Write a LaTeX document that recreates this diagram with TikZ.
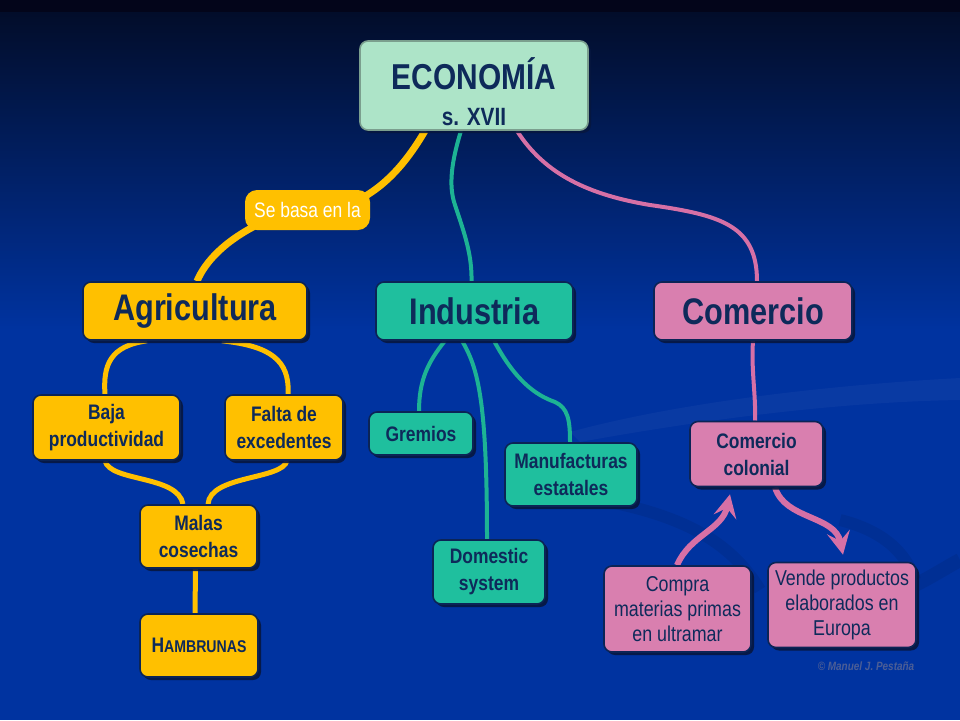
\documentclass[tikz,border=0pt]{standalone}
\usepackage{fontspec}
\setmainfont{Liberation Sans}[FakeStretch=0.83]
\usepackage{tikz}
\usetikzlibrary{arrows.meta,shadows,backgrounds}
\definecolor{bandc}{HTML}{03051A}
\definecolor{bgtop}{HTML}{020D2A}
\definecolor{bgblue}{HTML}{0033A0}
\definecolor{navytext}{HTML}{0E2A5A}
\definecolor{boxline}{HTML}{0B2456}
\definecolor{shadowc}{HTML}{07173F}
\definecolor{econfill}{HTML}{ADE4C8}
\definecolor{econline}{HTML}{7B9F8E}
\definecolor{agrifill}{HTML}{FFC000}
\definecolor{indfill}{HTML}{1FBF9E}
\definecolor{indline}{HTML}{1DB394}
\definecolor{comfill}{HTML}{D97FAF}
\definecolor{comline}{HTML}{D670A6}
\definecolor{creditc}{HTML}{4C5E96}

\begin{document}
\begin{tikzpicture}[x=1pt,y=-1pt]
\tikzstyle{box}=[draw=boxline,line width=1.6pt,rounded corners=8pt,align=center,text=navytext,inner sep=0pt,
  drop shadow={shadow xshift=3pt,shadow yshift=-3pt,fill=shadowc,opacity=0.9}]
\tikzstyle{econbox}=[box,fill=econfill,draw=econline]
\tikzstyle{agribox}=[box,fill=agrifill]
\tikzstyle{indbox}=[box,fill=indfill]
\tikzstyle{combox}=[box,fill=comfill]
\tikzstyle{labelbox}=[fill=agrifill,rounded corners=12pt,text=white,inner sep=0pt,font=\fontsize{21}{25}\selectfont]
\tikzstyle{bigtext}=[font=\fontsize{37}{40}\selectfont\bfseries]
\tikzstyle{midtext}=[font=\fontsize{21}{27}\selectfont\bfseries]
\tikzstyle{regtext}=[font=\fontsize{21.5}{25}\selectfont]
\tikzstyle{credit}=[text=creditc,font=\fontsize{12}{14}\selectfont\bfseries\itshape]
\tikzstyle{yline}=[agrifill,line width=5pt]
\tikzstyle{tline}=[indline,line width=4pt]
\tikzstyle{pline}=[comline,line width=4pt]
\tikzstyle{parrow}=[comline,line width=6pt,-{Stealth[length=23pt,width=23pt,inset=9pt]}]

\useasboundingbox (0,0) rectangle (960,720);

\node[econbox,minimum width=228pt,minimum height=89pt,font=\fontsize{25}{36}\selectfont\bfseries] (econ) at (474,85.5)
  {\rule{0pt}{44pt}{\fontsize{36}{36}\selectfont ECONOMÍA}\\s. XVII};
\node[labelbox,minimum width=125pt,minimum height=40pt] (sebasa) at (307.5,210) {Se basa en la};
\node[agribox,minimum width=224pt,minimum height=58pt,bigtext] (agri) at (195,311) {Agricultura};
\node[indbox,minimum width=197pt,minimum height=58pt,bigtext] (ind) at (474.5,311) {Industria};
\node[combox,minimum width=198pt,minimum height=58pt,bigtext] (com) at (753,311) {Comercio};
\node[agribox,minimum width=147pt,minimum height=65pt,midtext] (baja) at (106.5,427.5) {Baja\\productividad};
\node[agribox,minimum width=118pt,minimum height=65pt,midtext] (falta) at (284,427.5) {Falta de\\excedentes};
\node[agribox,minimum width=117pt,minimum height=63pt,midtext] (malas) at (198.5,536.5) {Malas\\cosechas};
\node[agribox,minimum width=118pt,minimum height=63pt,midtext] (hambre) at (199,645.5) {H{\fontsize{17}{20}\selectfont AMBRUNAS}};
\node[indbox,minimum width=104pt,minimum height=43pt,midtext] (gremios) at (421,433.5) {Gremios};
\node[indbox,minimum width=132pt,minimum height=63pt,midtext] (manuf) at (571,474.5) {Manufacturas\\estatales};
\node[indbox,minimum width=112pt,minimum height=64pt,midtext] (domestic) at (489,572) {Domestic\\system};
\node[combox,minimum width=133pt,minimum height=65pt,midtext] (colonial) at (756.5,454) {Comercio\\colonial};
\node[combox,minimum width=147pt,minimum height=86pt,regtext] (compra) at (677.5,609) {Compra\\materias primas\\en ultramar};
\node[combox,minimum width=148pt,minimum height=85pt,regtext] (vende) at (842,605) {Vende productos\\elaborados en\\Europa};
\node[credit] (autor) at (866,666) {© Manuel J. Pestaña};

\begin{scope}[on background layer]
\fill[bandc] (0,0) rectangle (960,12);
\fill[top color=bgtop,bottom color=bgblue] (0,12) rectangle (960,330);
\fill[bgblue] (0,330) rectangle (960,720);
\fill[white,opacity=0.035] (570,432) .. controls (680,402) and (830,385) .. (960,378)
  -- (960,400) .. controls (830,402) and (690,422) .. (580,442) -- cycle;
\draw[black,opacity=0.07,line width=12pt] (600,500) .. controls (680,515) and (730,540) .. (760,590);
\draw[black,opacity=0.07,line width=12pt] (840,520) .. controls (880,530) and (905,550) .. (915,580);
\draw[black,opacity=0.07,line width=14pt] (915,585) .. controls (935,575) and (950,565) .. (960,560);

\draw[agrifill,line width=7pt] ([xshift=-49pt]econ.south) .. controls (405,165) and (385,185) .. ([xshift=55pt,yshift=-8pt]sebasa.north);
\draw[agrifill,line width=7pt] ([xshift=-45pt,yshift=8pt]sebasa.south) .. controls (225,240) and (205,262) .. ([xshift=2pt]agri.north);
\draw[tline] ([xshift=-13pt]econ.south) .. controls (452,160) and (448,185) .. (455,205)
  .. controls (465,235) and (472,255) .. ([xshift=-3pt]ind.north);
\draw[pline] ([xshift=43pt]econ.south) .. controls (545,175) and (590,195) .. (650,205)
  .. controls (720,215) and (757,225) .. ([xshift=4pt]com.north);

\draw[yline] ([xshift=-48pt]agri.south) .. controls (110,346) and (103,365) .. ([xshift=-1.5pt]baja.north);
\draw[yline] ([xshift=27pt]agri.south) .. controls (270,346) and (290,360) .. ([xshift=4pt]falta.north);
\draw[yline] ([xshift=-1.5pt]baja.south) .. controls (110,482) and (178,475) .. ([xshift=-15.5pt]malas.north);
\draw[yline] ([xshift=3pt]falta.south) .. controls (282,480) and (210,475) .. ([xshift=9.5pt]malas.north);
\draw[yline] ([xshift=-3pt]malas.south) -- ([xshift=-4pt]hambre.north);

\draw[tline] ([xshift=-29.5pt]ind.south) .. controls (428,362) and (419,380) .. ([xshift=-2pt]gremios.north);
\draw[tline] ([xshift=-12.5pt]ind.south) .. controls (478,368) and (487,400) .. ([xshift=-2pt]domestic.north);
\draw[tline] ([xshift=19.5pt]ind.south) .. controls (515,380) and (535,395) .. (555,402)
  .. controls (568,408) and (570,420) .. ([xshift=-1pt]manuf.north);

\draw[pline] (com.south) .. controls (751,370) and (756,395) .. ([xshift=-1.5pt]colonial.north);
\draw[parrow] ([xshift=-0.5pt]compra.north) .. controls (690,535) and (722,530) .. ([xshift=-26.5pt,yshift=-7pt]colonial.south);
\draw[parrow] ([xshift=18.5pt]colonial.south) .. controls (785,520) and (835,515) .. ([xshift=1pt,yshift=7pt]vende.north);
\end{scope}
\end{tikzpicture}
\end{document}
